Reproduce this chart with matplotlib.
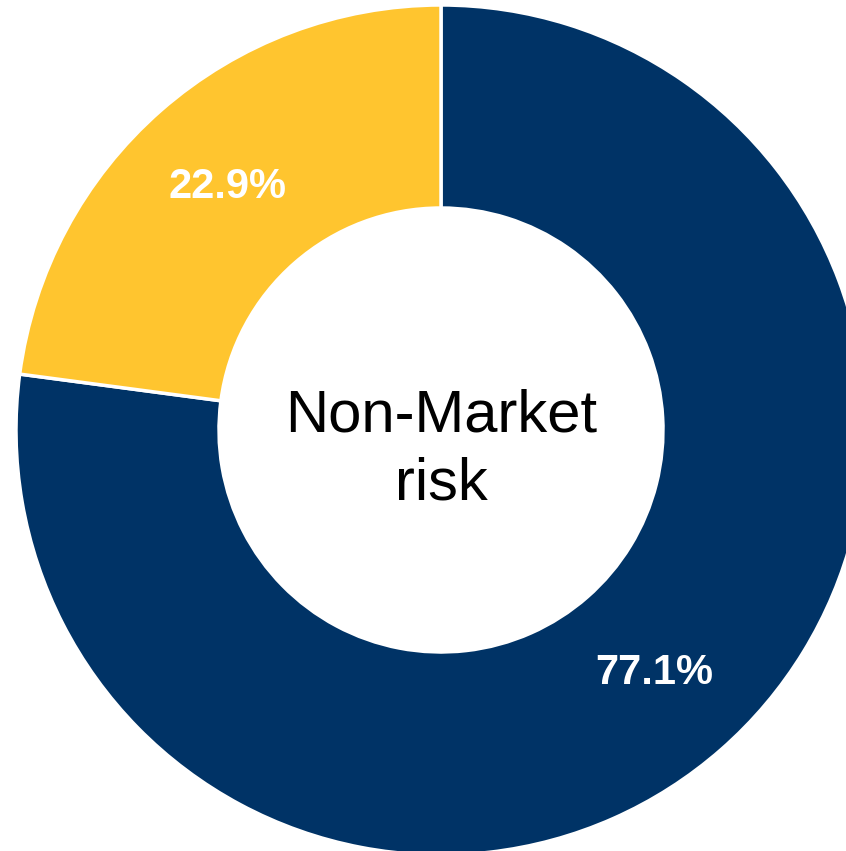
import matplotlib
matplotlib.use('Agg')
import matplotlib.pyplot as plt

# Share of non-market risk
labels = ['Other', 'Non-Market']
shares = [77.1, 22.9]
colors = ['#003366', '#FFC52F']
center_text = 'Non-Market\nrisk'

plt.rcParams['font.family'] = ['Liberation Sans', 'DejaVu Sans']

fig = plt.figure(figsize=(8.46, 8.51), dpi=100)
ax = fig.add_axes([0, 0, 1, 1])

R = 425
ring = 203
ax.pie(shares, colors=colors, startangle=90, counterclock=False, radius=R,
       autopct='%.1f%%', pctdistance=(R - ring / 2) / R,
       wedgeprops=dict(width=ring, edgecolor='white', linewidth=2.5),
       textprops=dict(color='white', fontsize=30, fontweight='bold'))

ax.text(0, -20, center_text, ha='center', va='center', fontsize=43,
        color='black', linespacing=1.32)

# pixel-like frame: center at (441, 430) in an 846x851 canvas
ax.set_xlim(-441, 405)
ax.set_ylim(-421, 430)
ax.set_aspect('equal')
ax.axis('off')

fig.savefig('out.png', dpi=100)
